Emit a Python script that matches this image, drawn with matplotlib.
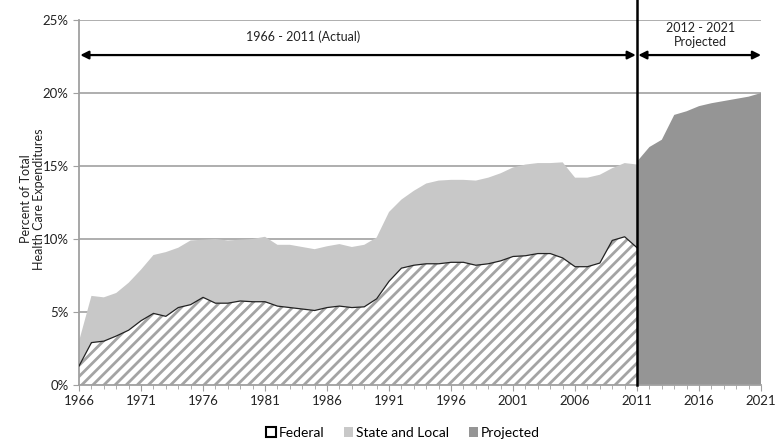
import numpy as np
import matplotlib.pyplot as plt
from matplotlib.patches import Patch
from matplotlib.ticker import FuncFormatter, MultipleLocator, FixedLocator

plt.rcParams['font.family'] = ['Lato', 'DejaVu Sans']
plt.rcParams['hatch.linewidth'] = 2.0

# Actual data, 1966 - 2011 (share of total health care expenditures, %)
years = np.arange(1966, 2012)
federal = [1.3, 2.9, 3.0, 3.35, 3.75, 4.4, 4.9, 4.7, 5.3, 5.5,
           6.0, 5.6, 5.6, 5.75, 5.7, 5.7, 5.4, 5.3, 5.2, 5.1,
           5.3, 5.4, 5.3, 5.35, 5.9, 7.1, 8.0, 8.2, 8.3, 8.3,
           8.4, 8.4, 8.2, 8.3, 8.5, 8.8, 8.85, 9.0, 9.0, 8.7,
           8.1, 8.1, 8.35, 9.9, 10.15, 9.4]
total = [3.0, 6.1, 6.0, 6.3, 7.0, 7.9, 8.9, 9.1, 9.4, 9.9,
         9.95, 10.0, 9.9, 9.95, 10.0, 10.15, 9.6, 9.6, 9.45, 9.3,
         9.5, 9.65, 9.45, 9.6, 10.1, 11.85, 12.7, 13.3, 13.8, 14.0,
         14.05, 14.05, 14.0, 14.2, 14.5, 14.9, 15.1, 15.2, 15.2, 15.25,
         14.2, 14.2, 14.4, 14.85, 15.2, 15.1]

# Projected, 2011 - 2021
proj_years = np.arange(2011, 2022)
projected = [15.3, 16.3, 16.8, 18.5, 18.75, 19.1, 19.3, 19.45, 19.6, 19.75, 20.0]

fig = plt.figure(figsize=(7.75, 4.45), dpi=100)
ax = fig.add_axes([0.102, 0.135, 0.880, 0.820])

# Federal (hatched), State and Local (light gray), Projected (dark gray)
ax.fill_between(years, 0, federal, facecolor='white', edgecolor='#a4a4a4',
                hatch='///', linewidth=0, zorder=2)
ax.fill_between(years, federal, total, facecolor='#c8c8c8', linewidth=0, zorder=2)
ax.plot(years, federal, color='#222222', linewidth=0.9, zorder=3)
ax.fill_between(proj_years, 0, projected, facecolor='#959595', linewidth=0, zorder=2)

ax.set_xlim(1966, 2021)
ax.set_ylim(0, 25)
ax.xaxis.set_major_locator(FixedLocator(range(1966, 2022, 5)))
ax.xaxis.set_minor_locator(MultipleLocator(1))
ax.yaxis.set_major_locator(MultipleLocator(5))
ax.yaxis.set_major_formatter(FuncFormatter(lambda v, p: f'{v:.0f}%'))
ax.grid(axis='y', color='#a8a8a8', linewidth=1.3, zorder=0)
ax.set_axisbelow(True)

for s in ['top', 'right']:
    ax.spines[s].set_visible(False)
for s in ['left', 'bottom']:
    ax.spines[s].set_color('#a0a0a0')
    ax.spines[s].set_linewidth(1.3)
ax.tick_params(axis='both', which='both', color='#a0a0a0', direction='out',
               labelsize=9.5, labelcolor='#222222')
ax.tick_params(axis='both', which='major', length=4)
ax.tick_params(axis='x', which='minor', length=3)

ax.set_ylabel('Percent of Total\nHealth Care Expenditures', fontsize=9,
              color='#222222', linespacing=1.1)
ax.yaxis.set_label_coords(-0.05, 0.51)

# Divider between actual and projected
ax.axvline(2011, ymin=0, ymax=1.06, color='black', linewidth=1.8,
           clip_on=False, zorder=5)

# Arrows and period labels
arrow_y = 22.6
ax.annotate('', xy=(1966.1, arrow_y), xytext=(2010.9, arrow_y),
            arrowprops=dict(arrowstyle='<|-|>', color='black', lw=1.6,
                            mutation_scale=12, shrinkA=0, shrinkB=0))
ax.annotate('', xy=(2011.1, arrow_y), xytext=(2021, arrow_y),
            arrowprops=dict(arrowstyle='<|-|>', color='black', lw=1.6,
                            mutation_scale=12, shrinkA=0, shrinkB=0))
ax.text(1984.1, 23.85, '1966 - 2011 (Actual)', ha='center', va='center',
        fontsize=9, color='#222222')
ax.text(2016.1, 24.0, '2012 - 2021\nProjected', ha='center', va='center',
        fontsize=9, color='#222222', linespacing=1.2)

handles = [Patch(facecolor='white', edgecolor='black', linewidth=1.5),
           Patch(facecolor='#c8c8c8'),
           Patch(facecolor='#959595')]
fig.legend(handles, ['Federal', 'State and Local', 'Projected'],
           loc='center', bbox_to_anchor=(0.52, 0.027), ncol=3, frameon=False,
           fontsize=10, handlelength=0.7, handleheight=0.7,
           handletextpad=0.2, columnspacing=1.4)

fig.savefig('out.png', dpi=100)
